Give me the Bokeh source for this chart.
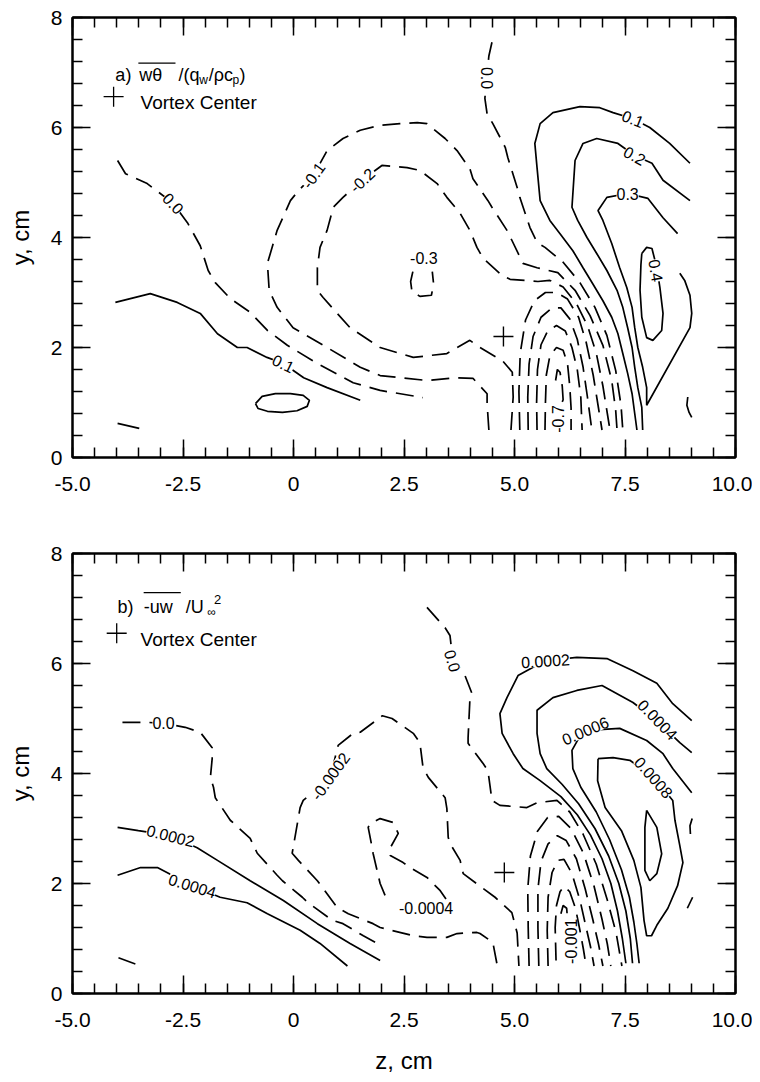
import math
from bokeh.plotting import figure
from bokeh.models import Range1d, FixedTicker, LinearAxis, ColumnDataSource
from bokeh.layouts import column
from bokeh.embed import file_html
from bokeh.resources import INLINE
from bokeh.core.properties import value

FONT = "Liberation Sans"

# ---------------- axes ----------------
Z_TICKS = [-5.0, -2.5, 0.0, 2.5, 5.0, 7.5, 10.0]
Z_TICK_LABELS = ["-5.0", "-2.5", "0", "2.5", "5.0", "7.5", "10.0"]
Z_MINOR = [-5.0 + 0.5 * i for i in range(31)]
Y_TICKS = [0, 2, 4, 6, 8]
Y_MINOR = [0.4 * i for i in range(21)]

VORTEX_A = ([4.75], [2.2])
VORTEX_B = ([4.77], [2.2])

# ---------------- panel a) contours: (level, z, y) ----------------
A_POS1_WEST = (0.1, [-4.03, -3.24, -2.63, -2.11, -1.72, -1.27, -1.05, -0.6, -0.23, 0.23, 0.76, 1.51],
               [2.82, 2.98, 2.82, 2.62, 2.25, 2.0, 2.0, 1.82, 1.71, 1.45, 1.27, 1.04])
A_POS1_BUBBLE = (0.1, [-0.86, -0.71, -0.41, -0.07, 0.22, 0.36, 0.31, 0.08, -0.25, -0.59, -0.8, -0.86],
                 [0.98, 1.11, 1.16, 1.16, 1.13, 1.04, 0.93, 0.85, 0.82, 0.84, 0.89, 0.98])
A_POS1_CORNER = (0.1, [-3.98, -3.49], [0.62, 0.53])
A_ZERO_WEST = (0.0, [-3.98, -3.8, -3.31, -2.72, -2.4, -2.11, -1.93, -1.77, -1.43, -0.98, -0.59, -0.14, 0.54, 1.35, 1.96, 2.93],
               [5.4, 5.16, 4.98, 4.62, 4.27, 3.85, 3.4, 3.18, 2.89, 2.64, 2.31, 2.04, 1.71, 1.36, 1.22, 1.09])
A_NEG1 = (-0.1, [4.42, 4.38, 4.38, 4.06, 3.7, 3.02, 1.96, 1.51, 0.76, -0.01, -0.37, -0.55, -0.59, -0.37, -0.07, 0.11, 0.45, 0.76, 1.12, 1.51,
                 1.96, 2.41, 2.8, 3.02, 3.43, 3.7, 3.99, 4.06, 4.4, 4.49, 4.83, 4.94, 5.19, 5.51, 5.98, 6.37, 6.71, 7.0, 7.2, 7.29, 7.32],
          [0.5, 0.98, 1.16, 1.44, 1.45, 1.4, 1.49, 1.64, 2.0, 2.36, 2.73, 3.04, 3.53, 4.13, 4.67, 4.85, 5.13, 5.58, 5.8, 5.95,
           6.04, 6.07, 6.09, 6.07, 5.8, 5.58, 5.25, 5.07, 4.67, 4.55, 4.13, 3.95, 3.53, 3.45, 3.36, 3.04, 2.58, 2.04, 1.4, 0.85, 0.5])
A_NEG2 = (-0.2, [4.92, 4.97, 4.95, 4.74, 4.22, 3.99, 3.47, 2.71, 1.96, 1.28, 0.99, 0.67, 0.54, 0.54, 0.6, 0.76, 0.9, 1.12, 1.55, 2.0,
                 2.57, 2.86, 3.25, 3.47, 3.77, 3.99, 4.15, 4.29, 4.72, 4.9, 5.53, 5.8, 6.1, 6.4, 6.65, 6.85, 7.0, 7.1, 7.16],
          [0.5, 1.1, 1.55, 1.75, 2.0, 2.13, 1.89, 1.82, 2.0, 2.36, 2.62, 2.91, 3.04, 3.45, 3.82, 4.13, 4.55, 4.73, 5.04, 5.31,
           5.27, 5.22, 4.98, 4.73, 4.44, 4.13, 3.82, 3.62, 3.31, 3.24, 3.2, 3.22, 3.1, 2.8, 2.4, 1.9, 1.3, 0.8, 0.5])
A_NEG3_LOOP = (-0.3, [2.7, 2.65, 2.68, 2.86, 3.12, 3.17, 3.14], [3.38, 3.2, 3.02, 2.93, 2.95, 3.15, 3.38])
A_NEG3 = (-0.3, [5.12, 5.1, 5.13, 5.25, 5.45, 5.7, 5.95, 6.2, 6.45, 6.62, 6.78, 6.9, 6.98],
          [0.5, 1.2, 1.9, 2.5, 2.85, 3.0, 3.0, 2.88, 2.55, 2.1, 1.5, 0.9, 0.5])
A_NEG4 = (-0.4, [5.31, 5.3, 5.33, 5.42, 5.6, 5.85, 6.05, 6.25, 6.42, 6.55, 6.65, 6.75],
          [0.5, 1.1, 1.7, 2.2, 2.55, 2.72, 2.72, 2.52, 2.15, 1.65, 1.1, 0.5])
A_NEG5 = (-0.5, [5.51, 5.5, 5.52, 5.6, 5.75, 5.95, 6.15, 6.3, 6.42, 6.5, 6.53],
          [0.5, 1.0, 1.6, 2.05, 2.3, 2.4, 2.3, 2.0, 1.6, 1.1, 0.5])
A_NEG6 = (-0.6, [5.69, 5.7, 5.72, 5.8, 5.95, 6.1, 6.2, 6.25, 6.28, 6.28],
          [0.5, 1.0, 1.5, 1.85, 2.0, 1.95, 1.7, 1.3, 0.9, 0.5])
A_NEG7 = (-0.7, [5.93, 5.97, 6.03, 6.08, 6.1, 6.05], [1.4, 1.6, 1.55, 1.3, 1.05, 0.95])
A_ZERO_EAST = (0.0, [4.49, 4.42, 4.37, 4.33, 4.38, 4.51, 4.79, 4.85, 5.06, 5.12, 5.35, 5.51, 5.69, 6.1, 6.48, 6.82, 7.09, 7.29, 7.41, 7.45],
               [7.55, 7.3, 6.9, 6.53, 6.25, 6.07, 5.64, 5.45, 4.91, 4.73, 4.18, 3.91, 3.82, 3.55, 3.18, 2.73, 2.22, 1.58, 0.95, 0.5])
A_POS1_EAST = (0.1, [8.97, 8.51, 8.06, 7.68, 7.23, 6.93, 6.48, 5.87, 5.58, 5.46, 5.51, 5.58, 5.8, 6.03, 6.32, 6.55, 6.77, 7.0, 7.2, 7.34,
                     7.45, 7.56, 7.66, 7.72, 7.77],
               [5.35, 5.71, 6.0, 6.16, 6.27, 6.36, 6.38, 6.27, 6.07, 5.71, 5.27, 4.67, 4.31, 4.07, 3.76, 3.45, 3.16, 2.85, 2.55, 2.25,
                1.89, 1.53, 1.16, 0.8, 0.5])
A_POS2 = (0.2, [8.97, 8.36, 8.11, 7.72, 7.34, 6.86, 6.55, 6.37, 6.3, 6.43, 6.64, 6.86, 7.09, 7.32, 7.45, 7.56, 7.66, 7.72, 7.79, 7.88, 7.9],
          [4.67, 5.04, 5.35, 5.49, 5.71, 5.8, 5.71, 5.4, 4.55, 4.31, 4.0, 3.71, 3.4, 3.04, 2.73, 2.36, 2.0, 1.64, 1.27, 0.91, 0.5])
A_POS3 = (0.3, [8.69, 8.36, 8.02, 7.56, 7.09, 6.89, 7.0, 7.2, 7.38, 7.54, 7.66, 7.72, 7.79, 7.9, 7.99, 7.99, 8.97, 9.01, 8.97, 8.85, 8.74],
          [4.07, 4.36, 4.71, 4.8, 4.73, 4.49, 4.31, 3.89, 3.45, 3.09, 2.73, 2.36, 2.0, 1.64, 1.27, 0.95, 2.36, 2.62, 2.95, 3.22, 3.35])
A_POS4 = (0.4, [7.88, 7.99, 8.11, 8.22, 8.29, 8.36, 8.33, 8.13, 7.99, 7.88, 7.84, 7.86, 7.88],
          [3.71, 3.82, 3.8, 3.45, 3.09, 2.62, 2.31, 2.13, 2.18, 2.55, 3.04, 3.5, 3.71])
A_POS2_EDGE = (0.2, [8.92, 8.9, 8.95, 9.01], [1.1, 0.95, 0.82, 0.73])

A_LABEL_TEXT = ["0.0", "0.1", "-0.1", "-0.2", "-0.3", "0.0", "0.1", "0.2", "0.3", "0.4", "-0.7"]
A_LABEL_Z = [-2.72, -0.23, 0.45, 1.55, 2.95, 4.37, 7.68, 7.72, 7.56, 8.2, 5.98]
A_LABEL_Y = [4.62, 1.71, 5.13, 5.04, 3.62, 6.9, 6.16, 5.49, 4.8, 3.4, 0.7]
A_LABEL_ANGLE = [-0.8, -0.45, 0.95, 0.75, 0.0, -1.5708, -0.38, -0.5, 0.0, -1.4, 1.5708]

# ---------------- panel b) contours ----------------
B_POS2_WEST = (0.0002, [-3.98, -3.51, -2.78, -2.18, -1.72, -0.98, -0.23, 0.54, 1.28, 1.96],
               [3.02, 2.96, 2.87, 2.65, 2.42, 2.05, 1.69, 1.27, 0.91, 0.6])
B_POS4_WEST = (0.0004, [-3.98, -3.46, -3.08, -2.29, -1.66, -1.05, -0.59, 0.15, 0.6, 1.22],
               [2.15, 2.29, 2.29, 1.96, 1.75, 1.65, 1.45, 1.15, 0.91, 0.5])
B_ZERO_CORNER = (0.0, [-3.96, -3.42], [0.65, 0.49])
B_ZERO_WEST = (0.0, [-3.87, -3.31, -2.94, -2.45, -2.11, -1.84, -1.84, -1.88, -1.81, -1.77, -1.43, -0.98, -0.82, -0.37, -0.25, 0.2, 0.33,
                     0.88, 1.12, 1.58, 1.85],
               [4.93, 4.93, 4.91, 4.84, 4.75, 4.47, 4.27, 3.93, 3.75, 3.56, 3.15, 2.82, 2.55, 2.15, 2.05, 1.75, 1.65,
                1.33, 1.27, 1.05, 0.93])
B_NEG2_WEST = (-0.0002, [4.6, 4.51, 4.22, 4.15, 3.7, 3.47, 3.02, 2.71, 1.96, 1.8, 1.24, 0.99, 0.65, 0.54, 0.11, -0.03, 0.15, 0.22, 0.83, 1.01,
                         1.35, 1.51, 2.01, 2.23, 2.71, 2.86, 2.93, 3.05, 3.43, 3.47, 3.5, 3.54, 3.77, 3.84, 4.29, 4.56, 4.94, 5.06, 5.1],
               [0.55, 0.93, 1.09, 1.11, 1.09, 1.02, 1.02, 1.05, 1.2, 1.27, 1.45, 1.56, 1.93, 2.05, 2.42, 2.55, 3.38, 3.51, 3.93, 4.51,
                4.73, 4.75, 5.05, 5.0, 4.73, 4.56, 4.11, 3.93, 3.56, 3.36, 2.84, 2.73, 2.42, 2.18, 1.91, 1.75, 1.47, 1.1, 0.5])
B_NEG4_LOOP = (-0.0004, [3.45, 3.32, 3.02, 2.64, 2.48, 2.19, 2.19, 2.37, 2.25, 1.96, 1.73, 1.69, 1.78, 1.8, 1.96, 2.12],
               [1.72, 1.87, 2.11, 2.29, 2.38, 2.51, 2.65, 2.91, 3.11, 3.18, 3.09, 3.02, 2.65, 2.55, 2.0, 1.69])
B_ZERO_NORTH = (0.0, [3.02, 3.43, 3.54, 3.6, 3.88, 4.04, 3.99, 3.95, 3.95, 4.29, 4.4, 4.49, 4.67, 5.28, 5.51, 5.96, 6.25, 6.55, 6.85, 7.1,
                      7.3, 7.43],
                [7.02, 6.65, 6.51, 6.1, 5.78, 5.45, 5.33, 4.65, 4.55, 4.18, 4.05, 3.51, 3.42, 3.38, 3.47, 3.51, 3.3, 2.9, 2.35, 1.7,
                 1.1, 0.5])
B_POS2_EAST = (0.0002, [9.01, 8.58, 8.22, 7.68, 7.09, 6.41, 5.69, 5.08, 4.83, 4.67, 4.72, 4.97, 5.19, 5.58, 6.05, 6.42, 6.72, 6.98, 7.18,
                        7.33, 7.44, 7.52],
               [4.96, 5.27, 5.64, 5.87, 6.09, 6.11, 6.05, 5.78, 5.38, 5.09, 4.73, 4.36, 4.09, 3.87, 3.58, 3.25, 2.88, 2.45, 2.0,
                1.5, 1.0, 0.55])
B_POS4_EAST = (0.0004, [9.01, 8.74, 8.22, 7.68, 6.98, 6.41, 5.87, 5.51, 5.51, 5.58, 5.73, 6.08, 6.45, 6.82, 7.13, 7.36, 7.52, 7.62, 7.67],
               [4.38, 4.56, 4.96, 5.29, 5.6, 5.51, 5.38, 5.15, 4.73, 4.36, 4.09, 3.8, 3.45, 3.0, 2.5, 2.0, 1.5, 1.0, 0.55])
B_POS6 = (0.0006, [9.01, 8.58, 8.36, 7.99, 7.38, 6.55, 6.3, 6.32, 6.5, 6.85, 7.15, 7.42, 7.6, 7.7, 7.77, 7.82],
          [3.65, 4.09, 4.36, 4.6, 4.82, 4.78, 4.42, 4.09, 3.75, 3.3, 2.8, 2.25, 1.75, 1.3, 0.9, 0.55])
B_POS8 = (0.0008, [6.89, 6.88, 7.05, 7.42, 7.7, 7.86, 7.93, 7.99, 8.1, 8.22, 8.47, 8.69, 8.81, 8.74, 8.63, 8.58, 8.18, 7.61, 7.23, 6.89],
          [4.27, 3.87, 3.38, 2.96, 2.42, 1.93, 1.33, 1.05, 1.05, 1.24, 1.55, 1.96, 2.38, 2.69, 3.15, 3.51, 3.91, 4.24, 4.29, 4.27])
B_POS10 = (0.001, [7.99, 8.22, 8.33, 8.22, 8.06, 7.95, 7.95, 7.99], [3.33, 3.02, 2.54, 2.18, 2.05, 2.24, 3.02, 3.33])
B_POS_EDGE1 = (0.0006, [9.02, 8.97, 8.98], [3.18, 3.05, 2.9])
B_POS_EDGE2 = (0.0006, [9.03, 8.91], [1.75, 1.55])
B_NEG2_FAN = (-0.0002, [5.33, 5.31, 5.3, 5.36, 5.52, 5.75, 6.0, 6.28, 6.56, 6.8, 6.98, 7.1, 7.18],
              [0.5, 1.2, 1.9, 2.5, 2.95, 3.2, 3.22, 3.0, 2.55, 1.95, 1.35, 0.9, 0.5])
B_NEG4_FAN = (-0.0004, [5.55, 5.53, 5.53, 5.6, 5.76, 5.97, 6.17, 6.4, 6.6, 6.77, 6.9, 7.0],
              [0.5, 1.2, 1.9, 2.4, 2.72, 2.87, 2.78, 2.45, 1.9, 1.35, 0.9, 0.5])
B_NEG6_FAN = (-0.0006, [5.76, 5.74, 5.76, 5.85, 5.98, 6.12, 6.3, 6.48, 6.62, 6.72, 6.8],
              [0.5, 1.15, 1.75, 2.2, 2.42, 2.44, 2.18, 1.7, 1.2, 0.85, 0.5])
B_NEG8_FAN = (-0.0008, [5.94, 5.92, 5.95, 6.03, 6.12, 6.25, 6.38, 6.48, 6.56, 6.62],
              [0.6, 1.2, 1.6, 1.85, 1.95, 1.85, 1.55, 1.15, 0.8, 0.5])
B_NEG10 = (-0.001, [6.05, 6.1, 6.18, 6.2], [1.45, 1.6, 1.55, 1.35])

B_LABEL_TEXT = ["0.0", "0.0002", "0.0004", "-0.0002", "-0.0004", "0.0", "0.0002", "0.0004", "0.0006", "0.0008", "-0.001"]
B_LABEL_Z = [-2.94, -2.78, -2.29, 0.83, 3.0, 3.6, 5.7, 8.24, 6.6, 8.15, 6.28]
B_LABEL_Y = [4.91, 2.87, 1.96, 3.95, 1.56, 6.05, 6.05, 4.98, 4.78, 3.93, 0.95]
B_LABEL_ANGLE = [0.0, -0.25, -0.3, 0.95, 0.0, -1.3, 0.06, -0.8, 0.4, -0.85, 1.5708]

A_CONTOURS = [A_POS1_WEST, A_POS1_BUBBLE, A_POS1_CORNER, A_ZERO_WEST, A_NEG1, A_NEG2, A_NEG3_LOOP, A_NEG3,
              A_NEG4, A_NEG5, A_NEG6, A_NEG7, A_ZERO_EAST, A_POS1_EAST, A_POS2, A_POS3, A_POS4, A_POS2_EDGE]
B_CONTOURS = [B_POS2_WEST, B_POS4_WEST, B_ZERO_CORNER, B_ZERO_WEST, B_NEG2_WEST, B_NEG4_LOOP, B_ZERO_NORTH,
              B_POS2_EAST, B_POS4_EAST, B_POS6, B_POS8, B_POS10, B_POS_EDGE1, B_POS_EDGE2,
              B_NEG2_FAN, B_NEG4_FAN, B_NEG6_FAN, B_NEG8_FAN, B_NEG10]


def style_axis(ax, ticker, labels):
    ax.ticker = ticker
    ax.axis_line_color = "black"
    ax.axis_line_width = 2
    ax.major_tick_in = 18
    ax.major_tick_out = 0
    ax.minor_tick_in = 10
    ax.minor_tick_out = 0
    ax.major_tick_line_color = "black"
    ax.major_tick_line_width = 1.5
    ax.minor_tick_line_color = "black"
    ax.minor_tick_line_width = 1.5
    if labels:
        ax.major_label_text_font = FONT
        ax.major_label_text_font_size = "21px"
        ax.major_label_text_color = "black"
    else:
        ax.major_label_text_font_size = "0px"
        ax.major_label_standoff = 0
        ax.major_label_overrides = {t: "" for t in ticker.ticks}


def make_panel(height, top, bottom, xlabel):
    p = figure(width=752, height=height, x_range=Range1d(-5, 10), y_range=Range1d(0, 8),
               output_backend="svg", toolbar_location=None, tools="",
               min_border_left=72, min_border_right=17, min_border_top=top, min_border_bottom=bottom,
               background_fill_color="white", border_fill_color="white")
    p.outline_line_color = "black"
    p.outline_line_width = 2
    p.xgrid.visible = False
    p.ygrid.visible = False
    bx = p.below[0]
    ly = p.left[0]
    above = LinearAxis()
    right = LinearAxis()
    p.add_layout(above, "above")
    p.add_layout(right, "right")
    style_axis(bx, FixedTicker(ticks=Z_TICKS, minor_ticks=Z_MINOR), True)
    style_axis(above, FixedTicker(ticks=Z_TICKS, minor_ticks=Z_MINOR), False)
    style_axis(ly, FixedTicker(ticks=Y_TICKS, minor_ticks=Y_MINOR), True)
    style_axis(right, FixedTicker(ticks=Y_TICKS, minor_ticks=Y_MINOR), False)
    bx.major_label_overrides = {t: s for t, s in zip(Z_TICKS, Z_TICK_LABELS)}
    bx.major_label_standoff = 19
    ly.major_label_standoff = 10
    ly.axis_label = "y, cm"
    ly.axis_label_text_font = FONT
    ly.axis_label_text_font_size = "24px"
    ly.axis_label_text_font_style = "normal"
    ly.axis_label_text_color = "black"
    ly.axis_label_standoff = 14
    if xlabel:
        bx.axis_label = xlabel
        bx.axis_label_text_font = FONT
        bx.axis_label_text_font_size = "24px"
        bx.axis_label_text_font_style = "normal"
        bx.axis_label_text_color = "black"
        bx.axis_label_standoff = 17
    return p


def draw_contours(p, contours):
    sx, sy, dx, dy = [], [], [], []
    for level, zs, ys in contours:
        if level > 0:
            sx.append(zs); sy.append(ys)
        else:
            dx.append(zs); dy.append(ys)
    p.multi_line(sx, sy, line_color="black", line_width=1.7)
    p.multi_line(dx, dy, line_color="black", line_width=1.7, line_dash="18 9")


def draw_labels(p, texts, zs, ys, angles):
    src = ColumnDataSource(dict(x=zs, y=ys, text=texts, angle=angles))
    p.text(x="x", y="y", text="text", angle="angle", source=src,
           text_font=value(FONT), text_font_size="16px", text_color="black",
           text_align="center", text_baseline="middle",
           background_fill_color="white")


def txt(p, x, y, s, size, baseline="alphabetic"):
    p.text(x=[x], y=[y], text=[s], text_font=value(FONT), text_font_size=size,
           text_color="black", text_align="left", text_baseline=baseline)


# ---------------- panel a ----------------
pa = make_panel(520, 17, 63, None)
draw_contours(pa, A_CONTOURS)
draw_labels(pa, A_LABEL_TEXT, A_LABEL_Z, A_LABEL_Y, A_LABEL_ANGLE)
pa.scatter(VORTEX_A[0], VORTEX_A[1], marker="cross", size=20, line_color="black", line_width=1.4)
# legend / title
txt(pa, -4.03, 6.95, "a)", "18px")
txt(pa, -3.49, 6.95, "w\u03b8", "18px")
pa.segment(x0=[-3.51], y0=[7.17], x1=[-2.67], y1=[7.17], line_color="black", line_width=1.3)
txt(pa, -2.6, 6.95, "/(q", "18px")
txt(pa, -2.13, 6.86, "w", "12px")
txt(pa, -1.92, 6.95, "/\u03c1c", "18px")
txt(pa, -1.38, 6.86, "p", "12px")
txt(pa, -1.22, 6.95, ")", "18px")
pa.scatter([-4.07], [6.56], marker="cross", size=20, line_color="black", line_width=1.3)
txt(pa, -3.46, 6.45, "Vortex Center", "19px")

# ---------------- panel b ----------------
pb = make_panel(561, 33, 88, "z, cm")
draw_contours(pb, B_CONTOURS)
draw_labels(pb, B_LABEL_TEXT, B_LABEL_Z, B_LABEL_Y, B_LABEL_ANGLE)
pb.scatter(VORTEX_B[0], VORTEX_B[1], marker="cross", size=20, line_color="black", line_width=1.4)
txt(pb, -3.98, 7.02, "b)", "18px")
txt(pb, -3.39, 7.02, "-uw", "18px")
pb.segment(x0=[-3.39], y0=[7.29], x1=[-2.55], y1=[7.29], line_color="black", line_width=1.3)
txt(pb, -2.44, 7.02, "/U", "18px")
txt(pb, -1.95, 6.93, "\u221e", "12px")
txt(pb, -1.8, 7.16, "2", "13px")
pb.scatter([-4.0], [6.55], marker="cross", size=20, line_color="black", line_width=1.3)
txt(pb, -3.46, 6.44, "Vortex Center", "19px")

layout = column(pa, pb)
open("out.html", "w").write(file_html(layout, INLINE))
